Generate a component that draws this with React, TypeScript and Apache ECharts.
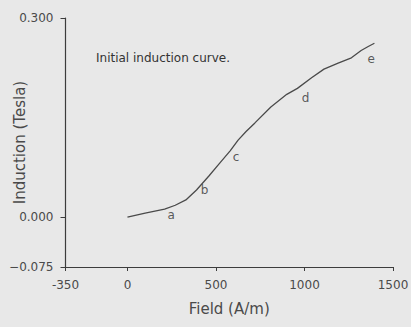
import React, { useEffect, useRef } from "react";
import * as echarts from "echarts";

const fieldValues = [0, 100, 210, 270, 330, 390, 460, 520, 580, 625, 670, 720, 810, 900, 960, 1040, 1110, 1190, 1265, 1320, 1360, 1395];
const inductionValues = [0, 0.006, 0.012, 0.018, 0.026, 0.041, 0.062, 0.081, 0.1, 0.116, 0.129, 0.142, 0.166, 0.185, 0.194, 0.21, 0.223, 0.232, 0.24, 0.251, 0.257, 0.262];

const pointLetters = ["a", "b", "c", "d", "e"];
const pointFields = [247, 435, 614, 1006, 1377];
const pointInductions = [0.004, 0.041, 0.091, 0.18, 0.239];

const xTicks = [-350, 0, 500, 1000, 1500];
const yTicks = [-0.075, 0, 0.3];

const annotation = "Initial induction curve.";
const xTitle = "Field (A/m)";
const yTitle = "Induction (Tesla)";

const FONT = "DejaVu Sans";
const TEXT = "#4a4a4a";
const LINE = "#3c3c3c";

export default function App() {
  const ref = useRef<HTMLDivElement>(null);
  useEffect(() => {
    if (!ref.current) return;
    const chart = echarts.init(ref.current, null, { renderer: "svg" });
    chart.setOption({
      animation: false,
      backgroundColor: "#e8e8e8",
      grid: { left: 65.5, right: 18, top: 18, bottom: 60, containLabel: false, outerBoundsMode: "none" },
      xAxis: {
        type: "value",
        min: -350,
        max: 1500,
        name: xTitle,
        nameLocation: "middle",
        nameGap: 34,
        nameMoveOverlap: false,
        nameTextStyle: { fontFamily: FONT, fontSize: 15, color: TEXT },
        splitLine: { show: false },
        axisLine: { show: true, onZero: false, lineStyle: { color: LINE, width: 1.2 } },
        axisTick: { show: true, length: 4, customValues: xTicks, lineStyle: { color: LINE } },
        axisLabel: {
          customValues: xTicks,
          margin: 12,
          fontFamily: FONT,
          fontSize: 12,
          color: TEXT,
          formatter: (v: number) => String(v),
        },
      },
      yAxis: {
        type: "value",
        min: -0.075,
        max: 0.3,
        name: yTitle,
        nameLocation: "middle",
        nameGap: 38,
        nameRotate: 90,
        nameMoveOverlap: false,
        nameTextStyle: { fontFamily: FONT, fontSize: 15, color: TEXT },
        splitLine: { show: false },
        axisLine: { show: true, onZero: false, lineStyle: { color: LINE, width: 1.2 } },
        axisTick: { show: true, length: 5, customValues: yTicks, lineStyle: { color: LINE } },
        axisLabel: {
          customValues: yTicks,
          margin: 12,
          fontFamily: FONT,
          fontSize: 12,
          color: TEXT,
          formatter: (v: number) => (v < 0 ? "\u2212" + Math.abs(v).toFixed(3) : v.toFixed(3)),
        },
      },
      graphic: [
        {
          type: "text",
          left: 96,
          top: 52,
          style: { text: annotation, fontFamily: FONT, fontSize: 12, fill: "#333" },
        },
      ],
      series: [
        {
          type: "line",
          data: fieldValues.map((x, i) => [x, inductionValues[i]]),
          showSymbol: false,
          symbol: "none",
          lineStyle: { color: "#4a4a4a", width: 1.3 },
        },
        {
          type: "scatter",
          symbolSize: 0,
          itemStyle: { color: "#333" },
          data: pointLetters.map((n, i) => ({ name: n, value: [pointFields[i], pointInductions[i]] })),
          label: {
            show: true,
            position: [0, 0],
            align: "center",
            verticalAlign: "middle",
            formatter: (p: any) => p.name,
            fontFamily: FONT,
            fontSize: 12,
            color: "#333",
            textBorderWidth: 0,
            textBorderColor: "transparent",
          },
        },
      ],
    });
    return () => chart.dispose();
  }, []);
  return <div ref={ref} style={{ position: "fixed", left: 0, top: 0, width: 411, height: 327 }} />;
}
